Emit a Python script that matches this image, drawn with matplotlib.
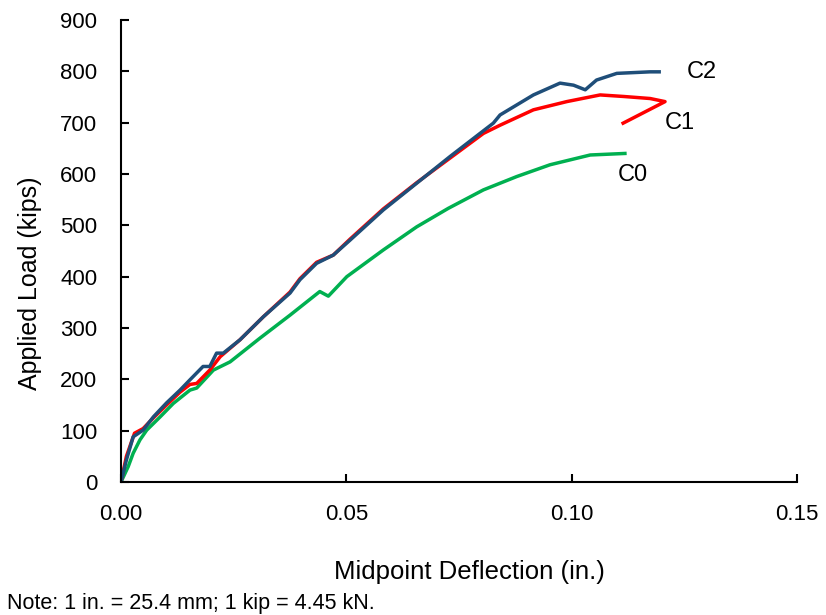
import matplotlib

matplotlib.use("Agg")

import matplotlib.pyplot as plt

plt.rcParams["font.family"] = ["Liberation Sans", "DejaVu Sans"]

# data (deflection in., load kips)
c0_x = [0.0, 0.0016, 0.0027, 0.0042, 0.0057, 0.0087, 0.0116, 0.0153, 0.0168, 0.0205,
        0.0242, 0.0308, 0.0375, 0.0441, 0.0460, 0.0501, 0.0582, 0.0656, 0.0726,
        0.0804, 0.0878, 0.0952, 0.1041, 0.1118]
c0_y = [0, 30, 56, 82, 101, 127, 153, 179, 183, 218, 234, 280, 325, 371, 362, 400,
        452, 497, 533, 569, 595, 618, 637, 640]

c1_x = [0.0, 0.0012, 0.0030, 0.0049, 0.0072, 0.0101, 0.0131, 0.0153, 0.0168, 0.0197,
        0.0220, 0.0264, 0.0316, 0.0375, 0.0397, 0.0434, 0.0471, 0.0508, 0.0582,
        0.0656, 0.0730, 0.0804, 0.0841, 0.0915, 0.0989, 0.1063, 0.1115, 0.1174,
        0.1207, 0.1114]
c1_y = [0, 50, 95, 104, 125, 150, 175, 190, 192, 218, 244, 277, 322, 370, 396, 428,
        442, 473, 532, 583, 631, 679, 695, 725, 741, 754, 751, 747, 741, 699]

c2_x = [0.0, 0.0012, 0.0027, 0.0049, 0.0072, 0.0101, 0.0131, 0.0153, 0.0182, 0.0197,
        0.0212, 0.0227, 0.0264, 0.0316, 0.0375, 0.0397, 0.0434, 0.0471, 0.0508,
        0.0582, 0.0656, 0.0730, 0.0826, 0.0841, 0.0915, 0.0974, 0.1004, 0.1030,
        0.1055, 0.1100, 0.1174, 0.1194]
c2_y = [0, 43, 88, 101, 127, 154, 179, 199, 225, 225, 251, 251, 277, 322, 368, 394,
        426, 442, 471, 530, 582, 634, 699, 715, 754, 777, 773, 764, 783, 796, 799, 799]

series_names = ["C0", "C1", "C2"]
series_colors = ["#00B050", "#FF0000", "#1F4E79"]
label_pos = [(0.1103, 598), (0.1207, 699), (0.1256, 799)]

x_ticks = [0.00, 0.05, 0.10, 0.15]
y_ticks = list(range(0, 901, 100))


def main():
    fig = plt.figure(figsize=(8.26, 6.15), dpi=100)
    ax = fig.add_axes([0.1465, 0.2163, 0.8185, 0.7512])

    data = [(c0_x, c0_y), (c1_x, c1_y), (c2_x, c2_y)]
    for (xs, ys), name, color, pos in zip(data, series_names, series_colors, label_pos):
        ax.plot(xs, ys, color=color, lw=2.5, solid_joinstyle="round")
        ax.text(pos[0], pos[1], name, fontsize=17, va="center", ha="left")

    ax.set_xlim(0, 0.15)
    ax.set_ylim(0, 900)
    ax.set_xticks(x_ticks)
    ax.set_xticklabels([f"{v:.2f}" for v in x_ticks])
    ax.set_yticks(y_ticks)
    ax.tick_params(direction="in", length=6, width=1.5, labelsize=16)
    ax.tick_params(axis="x", pad=16)
    ax.tick_params(axis="y", pad=17)
    for side in ("top", "right"):
        ax.spines[side].set_visible(False)
    for side in ("left", "bottom"):
        ax.spines[side].set_linewidth(1.5)

    ax.set_xlabel("Midpoint Deflection (in.)", fontsize=18.5, va="center")
    ax.xaxis.set_label_coords(0.516, -0.195)
    ax.set_ylabel("Applied Load (kips)", fontsize=18, va="center")
    ax.yaxis.set_label_coords(-0.1346, 0.431)
    fig.text(0.008, 0.0195, "Note: 1 in. = 25.4 mm; 1 kip = 4.45 kN.", fontsize=15.5,
             ha="left", va="center")

    fig.savefig("out.png", dpi=100, facecolor="white")
    plt.close(fig)


if __name__ == "__main__":
    main()
